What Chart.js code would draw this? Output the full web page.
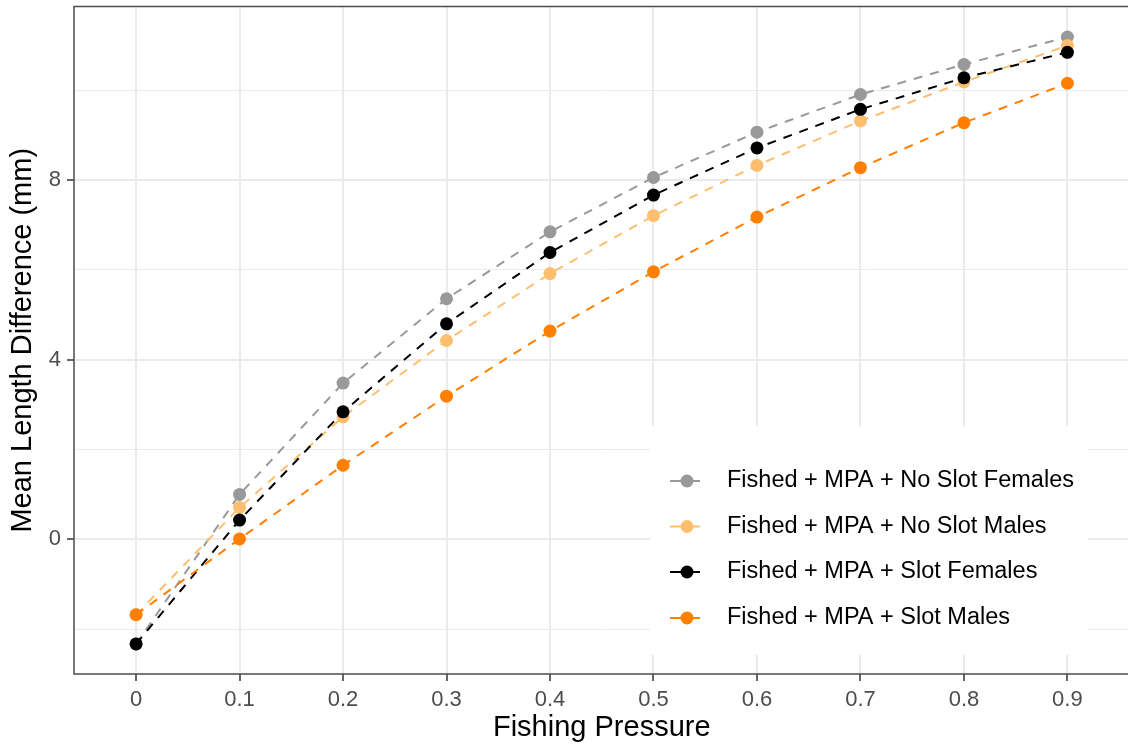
<!DOCTYPE html>
<html>
<head>
<meta charset="utf-8">
<title>Mean Length Difference vs Fishing Pressure</title>
<script src="https://cdn.jsdelivr.net/npm/chart.js@4.4.1/dist/chart.umd.min.js"></script>
<style>
    html, body { margin: 0; padding: 0; overflow: hidden; background: #ffffff; }
    #wrap { width: 1136px; height: 746px; }
</style>
</head>
<body>
<div id="wrap"><canvas id="lengthChart" width="1136" height="746"></canvas></div>
<script>
// ==================== DATA ====================

const fishingPressure = [0, 0.1, 0.2, 0.3, 0.4, 0.5, 0.6, 0.7, 0.8, 0.9];
const xTickLabels = ['0', '0.1', '0.2', '0.3', '0.4', '0.5', '0.6', '0.7', '0.8', '0.9'];

const yMajorTicks = [0, 4, 8];
const yTickLabels = ['0', '4', '8'];
const yGridValues = [-2, 0, 2, 4, 6, 8, 10];

const seriesLabels = [
    'Fished + MPA + No Slot Females',
    'Fished + MPA + No Slot Males',
    'Fished + MPA + Slot Females',
    'Fished + MPA + Slot Males'
];

const noSlotFemales = [-2.33, 1.00, 3.48, 5.36, 6.85, 8.06, 9.07, 9.91, 10.58, 11.19];
const noSlotMales   = [-1.68, 0.71, 2.73, 4.43, 5.92, 7.21, 8.33, 9.32, 10.19, 11.00];
const slotFemales   = [-2.33, 0.43, 2.84, 4.80, 6.39, 7.67, 8.72, 9.58, 10.28, 10.85];
const slotMales     = [-1.68, 0.01, 1.65, 3.19, 4.64, 5.96, 7.18, 8.28, 9.28, 10.16];

const seriesColors = ['#999999', '#fdbf6f', '#000000', '#ff7f00'];

// ==================== HELPERS ====================

const FONT = "'Liberation Sans', Arial, sans-serif";

function toPoints(values) {
    return fishingPressure.map((x, i) => ({ x: x, y: values[i] }));
}

function isMajorY(ctx) {
    return ctx.tick && yMajorTicks.indexOf(ctx.tick.value) !== -1;
}

// panel border + legend inside the panel (ggplot style)
const panelPlugin = {
    id: 'panelPlugin',
    afterDraw(chart) {
        const { ctx, chartArea: a } = chart;
        ctx.save();

        // panel border
        ctx.strokeStyle = '#4d4d4d';
        ctx.lineWidth = 1.5;
        ctx.setLineDash([]);
        ctx.strokeRect(a.left, a.top, a.right - a.left, a.bottom - a.top);

        // legend box
        ctx.fillStyle = '#ffffff';
        ctx.fillRect(650, 426, 438, 229);

        const rowY = [481, 526.5, 572, 618];
        chart.data.datasets.forEach((ds, i) => {
            const y = rowY[i];
            ctx.strokeStyle = ds.borderColor;
            ctx.lineWidth = 2;
            ctx.beginPath();
            ctx.moveTo(670, y);
            ctx.lineTo(700, y);
            ctx.stroke();

            ctx.fillStyle = ds.pointBackgroundColor;
            ctx.beginPath();
            ctx.arc(687, y, 6.5, 0, Math.PI * 2);
            ctx.fill();

            ctx.fillStyle = '#000000';
            ctx.font = '23.5px ' + FONT;
            ctx.textAlign = 'left';
            ctx.textBaseline = 'middle';
            ctx.fillText(ds.label, 727, y);
        });

        ctx.restore();
    }
};

// ==================== CHART ====================

const seriesValues = [noSlotFemales, noSlotMales, slotFemales, slotMales];

const datasets = seriesValues.map((values, i) => ({
    label: seriesLabels[i],
    data: toPoints(values),
    borderColor: seriesColors[i],
    backgroundColor: seriesColors[i],
    pointBackgroundColor: seriesColors[i],
    pointBorderWidth: 0,
    pointRadius: 6.5,
    borderWidth: 2,
    borderDash: [9, 8],
    fill: false,
    tension: 0,
    order: seriesValues.length - i
}));

new Chart(document.getElementById('lengthChart'), {
    type: 'line',
    data: { datasets: datasets },
    options: {
        responsive: false,
        animation: false,
        devicePixelRatio: 1,
        layout: { padding: { top: 6, right: 1, left: 0, bottom: 0 } },
        plugins: {
            legend: { display: false },
            tooltip: { enabled: false }
        },
        scales: {
            x: {
                type: 'linear',
                min: -0.06,
                max: 0.96,
                afterBuildTicks: scale => {
                    scale.ticks = fishingPressure.map(v => ({ value: v }));
                },
                afterFit: scale => {
                    scale.height = 72;
                    scale.paddingLeft = 0;
                    scale.paddingRight = 0;
                },
                ticks: {
                    autoSkip: false,
                    maxRotation: 0,
                    color: '#4d4d4d',
                    padding: 6,
                    font: { size: 22, family: FONT },
                    callback: value => xTickLabels[fishingPressure.indexOf(value)]
                },
                grid: {
                    color: '#ebebeb',
                    lineWidth: 2,
                    tickLength: 7,
                    tickColor: '#333333',
                    tickWidth: 1.5
                },
                border: { display: false },
                title: {
                    display: true,
                    text: 'Fishing Pressure',
                    color: '#000000',
                    font: { size: 29, family: FONT },
                    padding: { top: 0, bottom: 1 }
                }
            },
            y: {
                type: 'linear',
                min: -3.0,
                max: 11.87,
                afterBuildTicks: scale => {
                    scale.ticks = yGridValues.map(v => ({ value: v }));
                },
                afterFit: scale => {
                    scale.width = 74;
                    scale.paddingTop = 0;
                    scale.paddingBottom = 0;
                },
                ticks: {
                    color: '#4d4d4d',
                    padding: 6,
                    font: { size: 22, family: FONT },
                    callback: value => {
                        const k = yMajorTicks.indexOf(value);
                        return k === -1 ? '' : yTickLabels[k];
                    }
                },
                grid: {
                    color: '#ebebeb',
                    lineWidth: ctx => isMajorY(ctx) ? 2 : 1,
                    tickLength: 7,
                    tickColor: ctx => isMajorY(ctx) ? '#333333' : 'rgba(0,0,0,0)',
                    tickWidth: 1.5
                },
                border: { display: false },
                title: {
                    display: true,
                    text: 'Mean Length Difference (mm)',
                    color: '#000000',
                    font: { size: 29, family: FONT },
                    padding: { top: 6, bottom: 0 }
                }
            }
        }
    },
    plugins: [panelPlugin]
});
</script>
</body>
</html>
